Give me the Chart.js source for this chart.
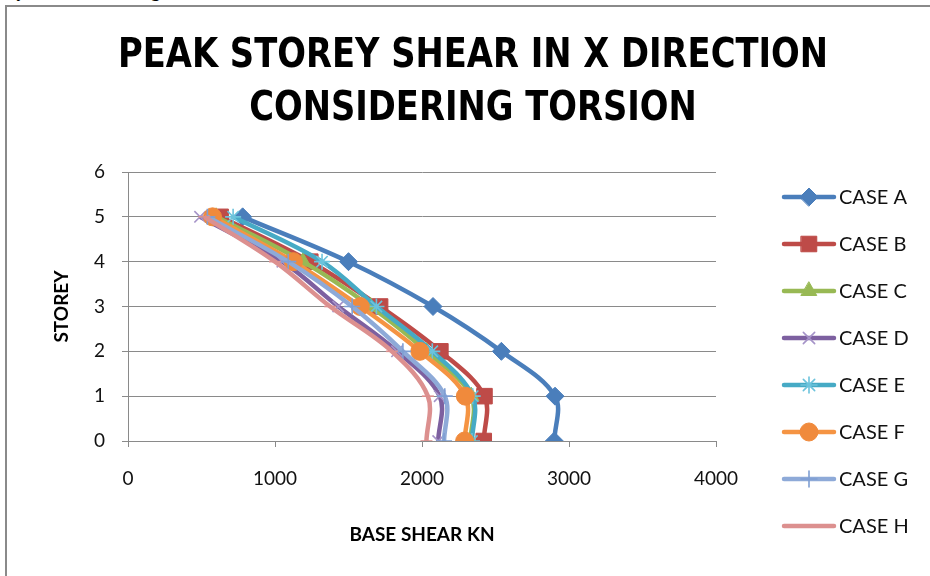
<!DOCTYPE html>
<html>
<head>
<meta charset="utf-8">
<script src="https://cdn.jsdelivr.net/npm/chart.js@4/dist/chart.umd.min.js"></script>
<style>
  body { margin: 0; width: 930px; height: 576px; overflow: hidden; background: #fff; position: relative; }
  #cut { position: absolute; left: -22px; top: -18px; font: bold 17px "Liberation Serif", serif; color: #000; white-space: nowrap; }
  #frame { position: absolute; left: 5px; top: 5px; width: 1000px; height: 700px; border-left: 2px solid #8a8a8a; border-top: 2px solid #8a8a8a; }
  #wrap { position: absolute; left: 0; top: 0; width: 930px; height: 576px; }
</style>
</head>
<body>
<div id="cut">Storey Shear considering Torsion in X direction</div>
<div id="frame"></div>
<div id="wrap"><canvas id="myChart"></canvas></div>
<script>
document.addEventListener('DOMContentLoaded', () => {
  const storeys = [0, 1, 2, 3, 4, 5];
  const caseA = [2900, 2905, 2540, 2075, 1500, 780];
  const caseB = [2420, 2425, 2125, 1715, 1240, 630];
  const caseC = [2330, 2335, 2030, 1650, 1190, 600];
  const caseD = [2110, 2120, 1830, 1430, 1050, 490];
  const caseE = [2340, 2345, 2070, 1690, 1320, 715];
  const caseF = [2290, 2295, 1985, 1580, 1125, 575];
  const caseG = [2150, 2155, 1870, 1525, 1090, 540];
  const caseH = [2030, 2040, 1795, 1375, 1000, 520];
  const seriesNames = ['CASE A', 'CASE B', 'CASE C', 'CASE D', 'CASE E', 'CASE F', 'CASE G', 'CASE H'];
  const xTicks = [0, 1000, 2000, 3000, 4000];
  const yTicks = [0, 1, 2, 3, 4, 5, 6];
  const titleLines = ['PEAK STOREY SHEAR IN X DIRECTION', 'CONSIDERING TORSION'];

  const allSeries = [caseA, caseB, caseC, caseD, caseE, caseF, caseG, caseH];
  const lineColors = ['#4a7ebb', '#be4b48', '#98b954', '#7d60a0', '#46aac5', '#f59443', '#8eaad8', '#dc908f'];
  const markColors = ['#4a7ebb', '#be4b48', '#98b954', '#a593c8', '#6cc3dc', '#f08a3c', '#7f9fd3', '#dc908f'];
  const styles = ['rectRot', 'rect', 'triangle', 'crossRot', 'star', 'circle', 'cross', 'line'];
  const radii = [9, 11, 9, 8, 8, 9, 8, 6];
  const filled = [true, true, true, false, false, true, false, false];

  const datasets = allSeries.map((vals, i) => ({
    label: seriesNames[i],
    data: vals.map((v, k) => ({ x: v, y: storeys[k] })),
    showLine: true,
    borderColor: lineColors[i],
    borderWidth: 4.5,
    tension: 0.35,
    pointStyle: styles[i],
    pointRadius: radii[i],
    pointBackgroundColor: markColors[i],
    pointBorderColor: markColors[i],
    pointBorderWidth: filled[i] ? 1 : 1.6,
    order: 8 - i,
  }));

  // condensed bold title, centred like the original (not over the plot area)
  const bigTitle = {
    id: 'bigTitle',
    afterDraw(chart) {
      const ctx = chart.ctx;
      ctx.save();
      ctx.font = 'bold 40px "DejaVu Sans Condensed", "DejaVu Sans", sans-serif';
      ctx.fillStyle = '#000';
      ctx.textAlign = 'center';
      ctx.textBaseline = 'middle';
      const sx = 710 / ctx.measureText(titleLines[0]).width;
      [57, 110].forEach((y, i) => {
        ctx.save();
        ctx.translate(473, y);
        ctx.scale(sx, 1);
        ctx.fillText(titleLines[i], 0, 0);
        ctx.restore();
      });
      ctx.restore();
    },
  };

  // legend with line + marker like the spreadsheet one
  const sideLegend = {
    id: 'sideLegend',
    afterDraw(chart) {
      const ctx = chart.ctx;
      ctx.save();
      chart.data.datasets.forEach((ds, i) => {
        const y = 197 + i * 47;
        ctx.strokeStyle = ds.borderColor;
        ctx.lineWidth = 4.5;
        ctx.lineCap = 'round';
        ctx.beginPath();
        ctx.moveTo(784, y);
        ctx.lineTo(834, y);
        ctx.stroke();
        if (ds.pointStyle !== 'line') {
          ctx.fillStyle = ds.pointBackgroundColor;
          ctx.strokeStyle = ds.pointBorderColor;
          ctx.lineWidth = ds.pointBorderWidth;
          Chart.helpers.drawPoint(ctx, { pointStyle: ds.pointStyle, radius: ds.pointRadius, rotation: 0, borderWidth: ds.pointBorderWidth }, 809, y);
        }
        ctx.fillStyle = '#111';
        ctx.font = '20px Lato, sans-serif';
        ctx.textBaseline = 'middle';
        ctx.textAlign = 'left';
        ctx.fillText(ds.label, 839, y + 1);
      });
      ctx.restore();
    },
  };

  const ctx = document.getElementById('myChart');
  new Chart(ctx, {
    type: 'scatter',
    data: { datasets: datasets },
    options: {
      responsive: true,
      maintainAspectRatio: false,
      animation: false,
      layout: { padding: { left: 0, right: 214, top: 172, bottom: 0 } },
      plugins: {
        legend: { display: false },
        tooltip: { enabled: false },
        title: { display: false },
      },
      scales: {
        x: {
          type: 'linear',
          min: 0,
          max: 4000,
          afterFit: (scale) => { scale.height = 135; },
          afterBuildTicks: (scale) => { scale.ticks = xTicks.map((v) => ({ value: v })); },
          grid: { drawOnChartArea: false, drawTicks: true, tickLength: 6, color: '#8a8a8a' },
          border: { color: '#8a8a8a', width: 1 },
          ticks: { color: '#111', font: { family: 'Lato, sans-serif', size: 19 }, padding: 20, callback: (v) => String(v) },
          title: {
            display: true,
            text: 'BASE SHEAR KN',
            color: '#000',
            font: { family: 'Lato, sans-serif', size: 19, weight: 'bold' },
            padding: { bottom: 30 },
          },
        },
        y: {
          type: 'linear',
          min: 0,
          max: 6,
          afterFit: (scale) => { scale.width = 128; },
          afterBuildTicks: (scale) => { scale.ticks = yTicks.map((v) => ({ value: v })); },
          grid: { color: '#8a8a8a', tickLength: 6 },
          border: { color: '#8a8a8a', width: 1 },
          ticks: { color: '#111', font: { family: 'Lato, sans-serif', size: 19 }, padding: 17, callback: (v) => String(v) },
          title: {
            display: true,
            text: 'STOREY',
            color: '#000',
            font: { family: 'Lato, sans-serif', size: 19, weight: 'bold' },
            padding: { top: 50 },
          },
        },
      },
    },
    plugins: [bigTitle, sideLegend],
  });
});
</script>
</body>
</html>
